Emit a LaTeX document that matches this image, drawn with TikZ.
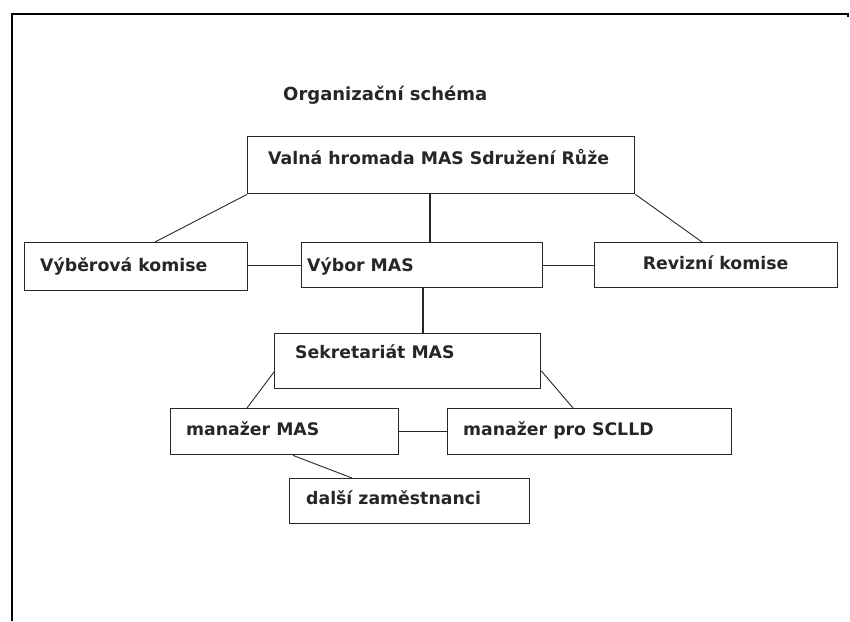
\documentclass[tikz,border=0pt]{standalone}
\usepackage{fontspec}
\setmainfont{DejaVu Sans}
\begin{document}
\begin{tikzpicture}[x=1pt,y=-1pt,
  box/.style={draw=black!85, line width=1.4pt, rectangle, inner sep=0pt, anchor=north west},
  txt/.style={anchor=base west, inner sep=0pt, text=black!85, font=\fontsize{17.3}{20}\selectfont\bfseries},
  ttl/.style={anchor=base west, inner sep=0pt, text=black!85, font=\fontsize{18}{21}\selectfont\bfseries},
  conn/.style={draw=black!85, line width=1.4pt},
  diag/.style={draw=black!85, line width=0.9pt}]
\useasboundingbox[fill=white] (0,0) rectangle (850,621);
% outer frame
\draw[line width=1.4pt] (12,621) -- (12,14) -- (848,14) -- (848,17);
% title
\node[ttl] (title) at (283,100) {Organizační schéma};
% boxes
\node[box, minimum width=387pt, minimum height=57pt] (vh) at (247,136) {};
\node[box, minimum width=223pt, minimum height=48pt] (vk) at (24,242) {};
\node[box, minimum width=241pt, minimum height=45pt] (vb) at (301,242) {};
\node[box, minimum width=243pt, minimum height=45pt] (rk) at (594,242) {};
\node[box, minimum width=266pt, minimum height=55pt] (sek) at (274,333) {};
\node[box, minimum width=228pt, minimum height=46pt] (mm) at (170,408) {};
\node[box, minimum width=284pt, minimum height=46pt] (ms) at (447,408) {};
\node[box, minimum width=240pt, minimum height=45pt] (dz) at (289,478) {};
% texts
\node[txt] (vht) at (268,164) {Valná hromada MAS Sdružení Růže};
\node[txt] (vkt) at (40,271) {Výběrová komise};
\node[txt] (vbt) at (307,271) {Výbor MAS};
\node[txt, anchor=base] (rkt) at (715.5,269) {Revizní komise};
\node[txt] (sekt) at (295,358) {Sekretariát MAS};
\node[txt] (mmt) at (186,435) {manažer MAS};
\node[txt] (mst) at (463,435) {manažer pro SCLLD};
\node[txt] (dzt) at (306,504) {další zaměstnanci};
% connectors
\coordinate (p1) at ([xshift=183pt]vh.south west);
\draw[conn] (p1) -- (p1 |- vb.north);
\draw[diag] (vh.south west) -- ([xshift=131pt]vk.north west);
\draw[diag] (vh.south east) -- ([xshift=108pt]rk.north west);
\draw[conn] (vb.west -| vk.east) -- (vb.west);
\draw[conn] (vb.east) -- (rk.west);
\coordinate (p2) at ([xshift=122pt]vb.south west);
\draw[conn] (p2) -- (p2 |- sek.north);
\draw[diag] ([yshift=-39pt]sek.north west) -- ([xshift=77pt]mm.north west);
\draw[diag] ([yshift=-38pt]sek.north east) -- ([xshift=126pt]ms.north west);
\draw[conn] (mm.east) -- (ms.west);
\draw[diag] ([xshift=123pt]mm.south west) -- ([xshift=63pt]dz.north west);
\end{tikzpicture}
\end{document}
